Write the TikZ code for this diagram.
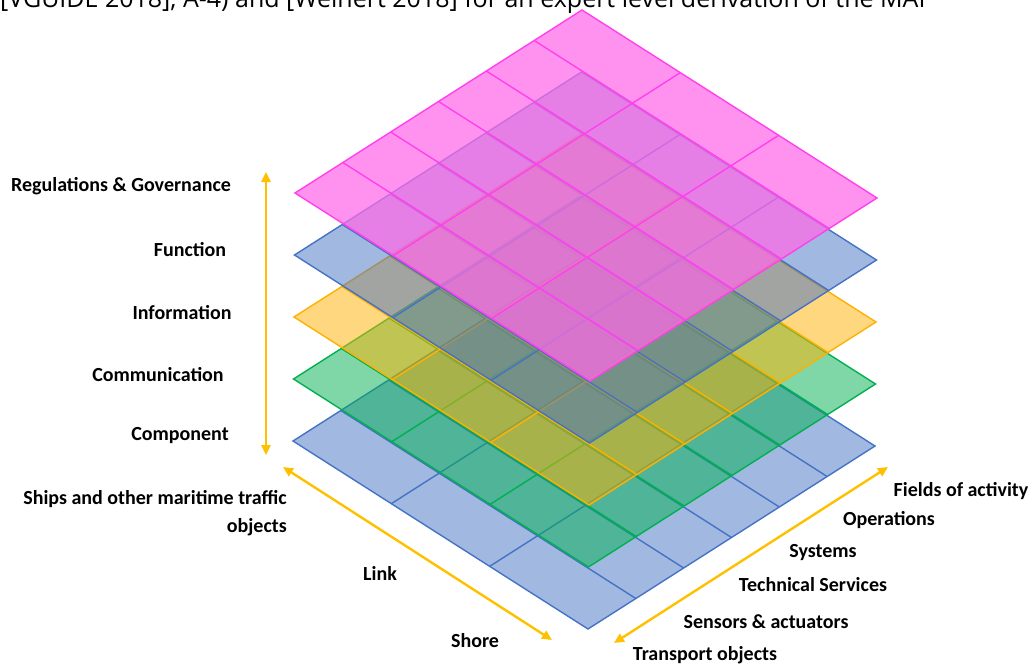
\documentclass[tikz,border=0pt]{standalone}
\usepackage{fontspec}
\setmainfont{Carlito}
\newfontfamily\pagefont{Open Sans}
\usetikzlibrary{arrows.meta}
\definecolor{regpink}{HTML}{FF40EC}
\definecolor{regfill}{RGB}{255,106,232}
\definecolor{funcblue}{HTML}{4472C4}
\definecolor{infoyellow}{HTML}{FFB000}
\definecolor{commgreen}{HTML}{00B050}
\definecolor{compblue}{HTML}{4472C4}
\definecolor{axisgold}{HTML}{FFC000}

\begin{document}
\begin{tikzpicture}[x=1pt,y=-1pt,
  lbl/.style={font=\fontsize{20}{28}\selectfont\bfseries,inner sep=0},
  axis/.style={axisgold,line width=2.4pt,{Triangle[length=10pt,width=9pt]}-{Triangle[length=10pt,width=9pt]}}]
\useasboundingbox (0,0) rectangle (1033,666);
\node[anchor=base west,inner sep=0,font=\pagefont\fontsize{25}{30}\selectfont] (cut) at (0,8) {[VGUIDE 2018], A-4) and [Weinert 2018] for an expert level derivation of the MAF};

% layers, bottom one first
\foreach \k/\col/\fcol/\op in {4/compblue/compblue/0.5, 3/commgreen/commgreen/0.5, 2/infoyellow/infoyellow/0.5, 1/funcblue/funcblue/0.5, 0/regpink/regfill/0.73}{
  \begin{scope}[shift={(-0.5*\k,62*\k)}]
    \fill[\fcol, fill opacity=\op] (295,193) -- (582,10) -- (877,198) -- (590,381) -- cycle;
    \foreach \i in {1,...,5}{
      \draw[\col, line width=1.4pt] (295+\i*47.83,193-\i*30.5) -- ++(295,188);
    }
    \foreach \j in {1,2}{
      \draw[\col, line width=1.4pt] (295+\j*98.33,193+\j*62.67) -- ++(287,-183);
    }
    \draw[\col, line width=1.4pt] (295,193) -- (582,10) -- (877,198) -- (590,381) -- cycle;
  \end{scope}
}

\coordinate (up) at (266,172);
\coordinate (down) at (266,455);
\coordinate (ship) at (283,467);
\coordinate (shore) at (552,640);
\coordinate (transport) at (614,643);
\coordinate (fields) at (888,467);
\draw[axis] (up) -- (down);
\draw[axis] (ship) -- (shore);
\draw[axis] (transport) -- (fields);

\node[lbl] (reg) at (121,186) {Regulations \& Governance};
\node[lbl] (func) at (190,250) {Function};
\node[lbl] (info) at (182,313) {Information};
\node[lbl] (comm) at (158,375) {Communication};
\node[lbl] (comp) at (180,436) {Component};
\node[lbl,align=right,anchor=north east] (ships) at (287,490) {Ships and other maritime traffic\\objects};
\node[lbl] (link) at (380,573) {Link};
\node[lbl] (shore-l) at (475,641) {Shore};
\node[lbl] (foa) at (961,491) {Fields of activity};
\node[lbl] (ops) at (889,520) {Operations};
\node[lbl] (sys) at (823,553) {Systems};
\node[lbl] (tech) at (813,585) {Technical Services};
\node[lbl] (sens) at (766,622) {Sensors \& actuators};
\node[lbl] (trans) at (705,655) {Transport objects};
\end{tikzpicture}
\end{document}
